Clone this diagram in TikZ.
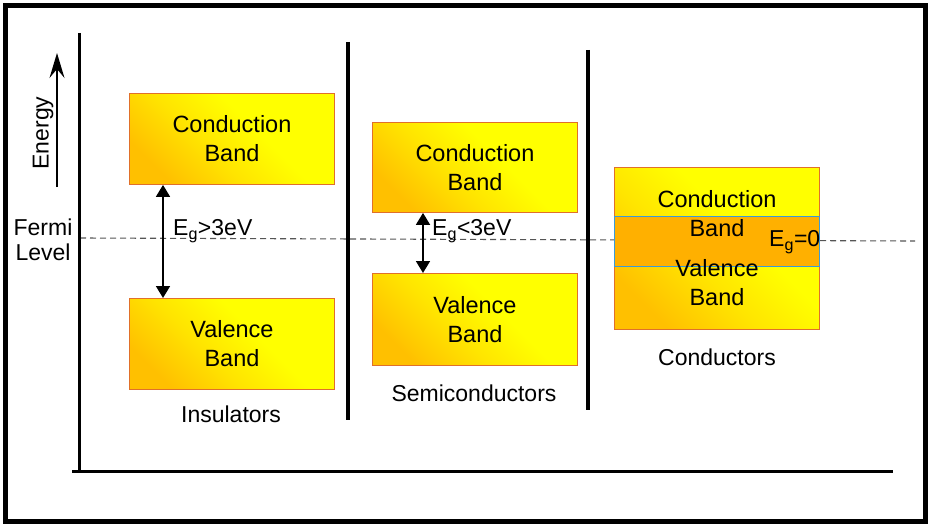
\documentclass[tikz,border=0pt]{standalone}
\usepackage{fontspec}
\setmainfont{Liberation Sans}
\usetikzlibrary{arrows.meta}
\definecolor{bandY}{HTML}{FFFF00}
\definecolor{bandM}{HTML}{FFE400}
\definecolor{bandO}{HTML}{FFC000}
\definecolor{bandEdge}{HTML}{E0702A}
\definecolor{overlapFill}{HTML}{FFB000}
\definecolor{overlapEdge}{HTML}{3A9AD9}
\definecolor{fermiGray}{HTML}{555555}
\pgfdeclareverticalshading{bandshade}{100bp}{color(0bp)=(bandO); color(25bp)=(bandO); color(42bp)=(bandM); color(58bp)=(bandY); color(100bp)=(bandY)}
\tikzset{
  band/.style={draw=bandEdge, line width=0.9pt, shading=bandshade,
    shading angle=315, minimum width=205pt, anchor=north west, inner sep=0pt,
    align=center, font=\fontsize{23.5}{29}\selectfont},
  lbl/.style={font=\fontsize{23}{27}\selectfont, inner sep=0pt, align=center},
  gaparrow/.style={line width=1.8pt, {Triangle[length=12pt,width=14pt]}-{Triangle[length=12pt,width=14pt]}},
  divider/.style={line width=4.5pt},
  axisline/.style={line width=3pt},
  fermi/.style={draw=fermiGray, line width=1.1pt, dash pattern=on 6pt off 4pt}
}
\begin{document}
\begin{tikzpicture}[x=1pt,y=-1pt]
\useasboundingbox (0,0) rectangle (931,527);
% frame
\draw[line width=5pt] (5.5,5.5) rectangle (925.5,521.5);
% fermi level
\coordinate (fl) at (80,238);
\coordinate (fr) at (915,241);
\draw[fermi] (fl) -- (fr);
% axes
\coordinate (ytop) at (79,33);
\coordinate (origin) at (79,471);
\coordinate (xleft) at (72,471);
\coordinate (xright) at (893,471);
\draw[axisline] (ytop) -- (origin);
\draw[axisline] (xleft) -- (xright);
% energy arrow
\coordinate (ea) at (57,187);
\coordinate (eb) at (57,53);
\draw[line width=1.8pt, -{Stealth[length=25pt,width=15pt,inset=9pt]}] (ea) -- (eb);
\node[lbl, rotate=90] (energy) at (43,133) {Energy};
\node[lbl] (fermilbl) at (43,240) {Fermi\\[-2pt]Level};
% dividers
\coordinate (d1a) at (348,42); \coordinate (d1b) at (348,420);
\coordinate (d2a) at (588,50); \coordinate (d2b) at (588,410);
\draw[divider] (d1a) -- (d1b);
\draw[divider] (d2a) -- (d2b);
% insulators
\node[band, minimum height=91pt] (ic) at (129,93) {Conduction\\Band};
\node[band, minimum height=91pt] (iv) at (129,298) {Valence\\Band};
\coordinate (ix) at (163,0);
\draw[gaparrow] (ix |- ic.south) -- (ix |- iv.north);
\node[lbl, anchor=west] (ieg) at (173,231) {E\textsubscript{g}>3eV};
\node[lbl] (inslbl) at (231,414) {Insulators};
% semiconductors
\node[band, minimum height=90pt] (sc) at (372,122) {Conduction\\Band};
\node[band, minimum height=92pt] (sv) at (372,273) {Valence\\Band};
\coordinate (sx) at (423,0);
\draw[gaparrow] (sx |- sc.south) -- (sx |- sv.north);
\node[lbl, anchor=west] (seg) at (432,231) {E\textsubscript{g}<3eV};
\node[lbl] (semlbl) at (474,393) {Semiconductors};
% conductors
\node[band, minimum height=162pt] (cb) at (614,167) {};
\node[draw=overlapEdge, fill=overlapFill, line width=0.9pt, minimum width=205pt,
      minimum height=50pt, inner sep=0pt, anchor=north west] (ov) at (614,216) {};
\node[lbl, font=\fontsize{23.5}{29}\selectfont] (cc1) at (717,199) {Conduction};
\node[lbl, font=\fontsize{23.5}{29}\selectfont] (cc2) at (717,228) {Band};
\node[lbl, font=\fontsize{23.5}{29}\selectfont] (cv1) at (717,268) {Valence};
\node[lbl, font=\fontsize{23.5}{29}\selectfont] (cv2) at (717,297) {Band};
\node[lbl, anchor=west] (ceg) at (769,242) {E\textsubscript{g}=0};
\node[lbl] (condlbl) at (717,357) {Conductors};
\end{tikzpicture}
\end{document}
